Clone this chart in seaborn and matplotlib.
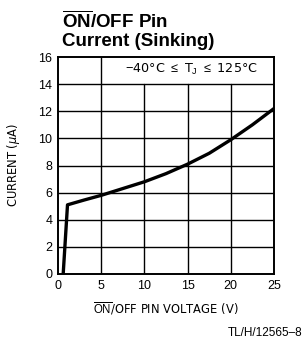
import numpy as np
import pandas as pd
import matplotlib
matplotlib.use("Agg")
import matplotlib.pyplot as plt
import seaborn as sns

# ON/OFF pin voltage (V) vs sinking current (uA)
voltage = [0.6, 1.1, 3.0, 5.0, 7.5, 10.0, 12.5, 15.0, 17.5, 20.0, 22.5, 25.0]
current = [0.0, 5.1, 5.45, 5.8, 6.3, 6.8, 7.4, 8.1, 8.9, 9.9, 11.0, 12.2]
x_ticks = [0, 5, 10, 15, 20, 25]
y_ticks = [0, 2, 4, 6, 8, 10, 12, 14, 16]

df = pd.DataFrame({"voltage": voltage, "current": current})

sns.set_theme(style="white")
plt.rcParams["font.family"] = ["Liberation Sans", "DejaVu Sans"]
plt.rcParams["text.color"] = "black"
plt.rcParams["axes.labelcolor"] = "black"
plt.rcParams["mathtext.fontset"] = "custom"
plt.rcParams["mathtext.rm"] = "Liberation Sans"
plt.rcParams["mathtext.bf"] = "Liberation Sans:bold"

fig = plt.figure(figsize=(3.06, 3.43), dpi=100)
ax = fig.add_axes([58 / 306, 1 - 274 / 343, 216 / 306, 217 / 343])

ax.set_xlim(0, 25)
ax.set_ylim(0, 16)

# grid: the top row is partly blanked by the temperature note
for y in y_ticks[1:-1]:
    ax.axhline(y, color="black", lw=1.0, zorder=1)
for x in x_ticks[1:-1]:
    top = 1.0 if x == 5 else 14 / 16
    ax.axvline(x, ymax=top, color="black", lw=1.0, zorder=1)

sns.lineplot(data=df, x="voltage", y="current", ax=ax, color="black",
             lw=2.4, zorder=3)

ax.text(15.4, 15.05, r"$-$40°C $\leq$ T$_{\mathrm{J}}$ $\leq$ 125°C",
        ha="center", va="center", fontsize=9.2, family="DejaVu Sans")

ax.set_xticks(x_ticks)
ax.set_yticks(y_ticks)
ax.tick_params(axis="both", length=0, pad=4, labelsize=9, colors="black")
for s in ax.spines.values():
    s.set_color("black")
    s.set_linewidth(1.4)

ax.set_xlabel(r"$\overline{\mathrm{ON}}$/OFF PIN VOLTAGE (V)", fontsize=8.3,
              family="DejaVu Sans", labelpad=6)
ax.set_ylabel(r"CURRENT ($\mu$A)", fontsize=8.3, family="DejaVu Sans",
              labelpad=12)

fig.text(62 / 306, 1 - 21 / 343, r"$\overline{\mathbf{ON}}$/OFF Pin",
         fontsize=13.5, fontweight="bold", va="center", ha="left")
fig.text(62 / 306, 1 - 41 / 343, "Current (Sinking)",
         fontsize=13.5, fontweight="bold", va="center", ha="left")
fig.text(302 / 306, 1 - 333 / 343, "TL/H/12565–8", fontsize=8.5,
         ha="right", va="center")

fig.savefig("out.png", dpi=100)
